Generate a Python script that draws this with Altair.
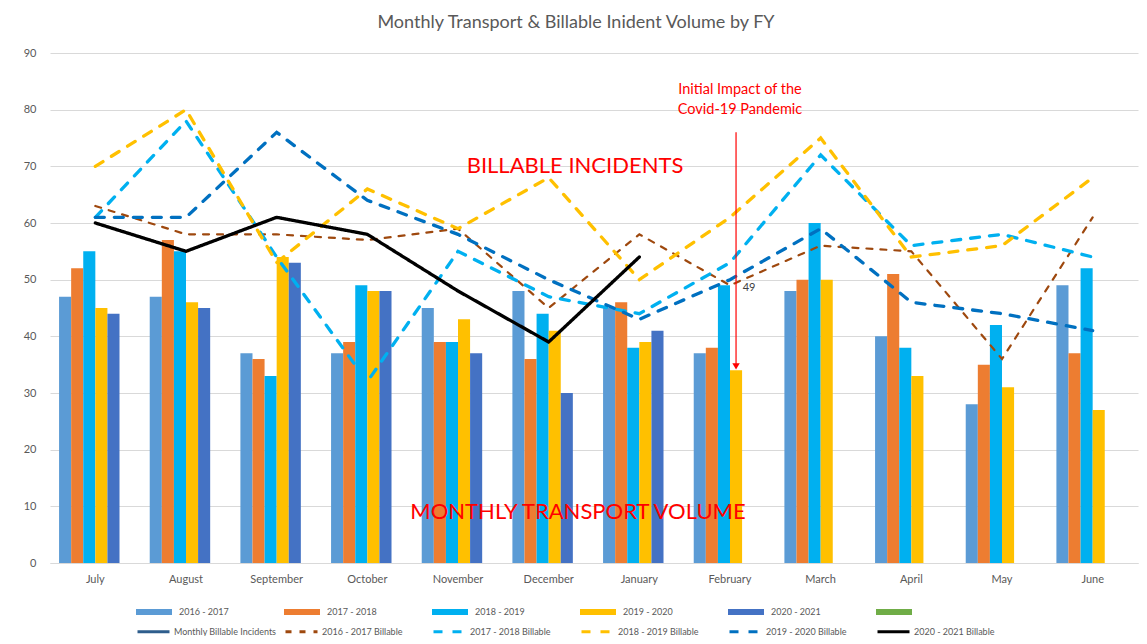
import altair as alt
import pandas as pd

# ---------------- data ----------------
months = ["July", "August", "September", "October", "November", "December",
          "January", "February", "March", "April", "May", "June"]

bar_series = ["2016 - 2017", "2017 - 2018", "2018 - 2019", "2019 - 2020", "2020 - 2021", "(blank)"]
bar_colors = ["#5B9BD5", "#ED7D31", "#00B0F0", "#FFC000", "#4472C4", "#70AD47"]

vol_1617 = [47, 47, 37, 37, 45, 48, 45, 37, 48, 40, 28, 49]
vol_1718 = [52, 57, 36, 39, 39, 36, 46, 38, 50, 51, 35, 37]
vol_1819 = [55, 55, 33, 49, 39, 44, 38, 49, 60, 38, 42, 52]
vol_1920 = [45, 46, 54, 48, 43, 41, 39, 34, 50, 33, 31, 27]
vol_2021 = [44, 45, 53, 48, 37, 30, 41]

line_series = ["Monthly Billable Incidents", "2016 - 2017 Billable", "2017 - 2018 Billable",
               "2018 - 2019 Billable", "2019 - 2020 Billable", "2020 - 2021 Billable"]
line_colors = ["#2E5D8C", "#9E480E", "#00B0F0", "#FFC000", "#0070C0", "#000000"]

bill_1617 = [63, 58, 58, 57, 59, 45, 58, 49, 56, 55, 36, 61]
bill_1718 = [61, 78, 54, 32, 55, 47, 44, 53, 72, 56, 58, 54]
bill_1819 = [70, 80, 53, 66, 59, 68, 50, 61, 75, 54, 56, 68]
bill_1920 = [61, 61, 76, 64, 58, 50, 43, 50, 59, 46, 44, 41]
bill_2021 = [60, 55, 61, 58, 48, 39, 54]

y_ticks = [0, 10, 20, 30, 40, 50, 60, 70, 80, 90]

title_text = "Monthly Transport & Billable Inident Volume by FY"

# annotation: covid arrow (Feb, 2019-2020 bar)
arrow_month = ["February"]
arrow_series = ["2019 - 2020"]
arrow_top = [76]
arrow_bottom = [35]
arrow_head = [34.7]

label_month = ["February"]
label_value = [49]

# ---------------- tables ----------------
bar_rows = []
for s, vals in zip(bar_series, [vol_1617, vol_1718, vol_1819, vol_1920, vol_2021]):
    for m, v in zip(months, vals):
        bar_rows.append({"month": m, "series": s, "value": v})
bars_df = pd.DataFrame(bar_rows)

line_rows = []
for s, vals in zip(line_series[1:], [bill_1617, bill_1718, bill_1819, bill_1920, bill_2021]):
    for i, (m, v) in enumerate(zip(months, vals)):
        line_rows.append({"month": m, "lseries": s, "value": v, "idx": i})
lines_df = pd.DataFrame(line_rows)

arrow_df = pd.DataFrame({"month": arrow_month, "series": arrow_series,
                         "top": arrow_top, "bottom": arrow_bottom, "head": arrow_head})
label_df = pd.DataFrame({"month": label_month, "value": label_value,
                         "text": [str(v) for v in label_value]})

FONT = "Lato"
GRAY = "#595959"

x_scale = alt.Scale(domain=months, paddingInner=0.2, paddingOuter=0.1)
y_scale = alt.Scale(domain=[0, 90], nice=False)
xoff_scale = alt.Scale(domain=bar_series, paddingInner=0, paddingOuter=0)

x_enc = alt.X("month:N", scale=x_scale, sort=months,
              axis=alt.Axis(title=None, labelAngle=0, ticks=False, domain=True,
                            domainColor="#D9D9D9", labelPadding=10, labelFontSize=11,
                            labelColor=GRAY, labelFont=FONT))
y_enc = alt.Y("value:Q", scale=y_scale,
              axis=alt.Axis(title=None, values=y_ticks, grid=True, gridColor="#D9D9D9",
                            domain=False, ticks=False, labelPadding=14, labelFontSize=11,
                            labelColor=GRAY, labelFont=FONT))

bars = alt.Chart(bars_df).mark_bar().encode(
    x=x_enc,
    xOffset=alt.XOffset("series:N", scale=xoff_scale),
    y=y_enc,
    fill=alt.Fill("series:N",
                  scale=alt.Scale(domain=bar_series, range=bar_colors),
                  legend=alt.Legend(title=None, orient="none", legendX=86, legendY=541,
                                    direction="horizontal", columns=6, gridAlign="all",
                                    columnPadding=55, padding=0,
                                    symbolType="M-1,-0.1667H1V0.1667H-1Z", symbolSize=1296,
                                    symbolStrokeWidth=0, symbolOpacity=1,
                                    labelFontSize=9, labelColor=GRAY, labelFont=FONT,
                                    labelOffset=7,
                                    labelExpr="datum.label == '(blank)' ? '' : datum.label")),
)

line_legend = alt.Legend(title=None, orient="none", legendX=86, legendY=561,
                         direction="horizontal", columns=6, gridAlign="all",
                         columnPadding=2, padding=0,
                         symbolType="stroke", symbolSize=1024, symbolStrokeWidth=3,
                         labelFontSize=9, labelColor=GRAY, labelFont=FONT, labelOffset=3)

lines = alt.Chart(lines_df).mark_line(strokeCap="round").encode(
    x=alt.X("month:N", scale=x_scale, sort=months),
    y=alt.Y("value:Q", scale=y_scale),
    order=alt.Order("idx:Q"),
    stroke=alt.Stroke("lseries:N",
                      scale=alt.Scale(domain=line_series, range=line_colors),
                      legend=line_legend),
    strokeDash=alt.StrokeDash("lseries:N",
                              scale=alt.Scale(domain=line_series,
                                              range=[[1, 0], [6, 8], [9, 10], [9, 10], [9, 10], [1, 0]]),
                              legend=line_legend),
    strokeWidth=alt.condition(alt.datum.lseries == "2016 - 2017 Billable",
                              alt.value(2.2), alt.value(3.3)),
)

arrow_line = alt.Chart(arrow_df).mark_rule(color="#FF0000", strokeWidth=1.2).encode(
    x=alt.X("month:N", scale=x_scale, sort=months),
    xOffset=alt.XOffset("series:N", scale=xoff_scale),
    y=alt.Y("top:Q", scale=y_scale),
    y2="bottom:Q",
)
arrow_tip = alt.Chart(arrow_df).mark_point(shape="triangle-down", filled=True, size=55,
                                           color="#FF0000", opacity=1).encode(
    x=alt.X("month:N", scale=x_scale, sort=months),
    xOffset=alt.XOffset("series:N", scale=xoff_scale),
    y=alt.Y("head:Q", scale=y_scale),
)

data_label = alt.Chart(label_df).mark_text(fontSize=11, color="#404040", dx=19, dy=3,
                                           font=FONT).encode(
    x=alt.X("month:N", scale=x_scale, sort=months),
    y=alt.Y("value:Q", scale=y_scale),
    text="text:N",
)

def note(txt, px, py, size, color="#FF0000"):
    return alt.Chart(pd.DataFrame({"t": [txt]})).mark_text(
        fontSize=size, color=color, font=FONT, align="center", baseline="middle"
    ).encode(x=alt.value(px), y=alt.value(py), text="t:N")

notes = (note(title_text, 526, -30, 18, GRAY)
         + note("BILLABLE INCIDENTS", 525, 113, 22)
         + note("MONTHLY TRANSPORT VOLUME", 528, 459, 22)
         + note("Initial Impact of the", 690, 37, 14.5)
         + note("Covid-19 Pandemic", 690, 57, 14.5))

chart = alt.layer(bars, lines, arrow_line, arrow_tip, data_label, notes).properties(
    width=1088,
    height=510,
    autosize=alt.AutoSizeParams(type="none"),
    padding={"left": 42, "top": 45, "right": 1, "bottom": 73},
).configure(font=FONT).configure_view(stroke=None)

chart.save("out.html", embed_options={"renderer": "svg", "actions": False})
